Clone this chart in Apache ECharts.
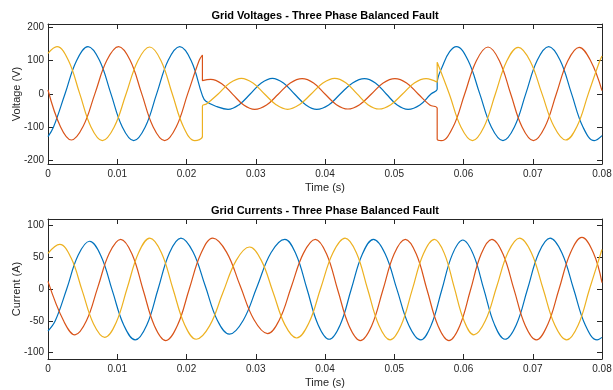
<!DOCTYPE html>
<html><head><meta charset="utf-8">
<script src="https://cdn.jsdelivr.net/npm/echarts@6/dist/echarts.min.js"></script>
<style>html,body{margin:0;padding:0;background:#fff}#c{width:613px;height:390px}</style>
</head><body><div id="c"></div>
<script>
// Grid voltages (V) – knots
const vaT = [0,0.00078,0.00245,0.00412,0.00578,0.00743,0.00908,0.01073,0.01238,0.01404,0.0157,0.01736,0.01902,0.02068,0.0223,0.0228,0.0244,0.026,0.0276,0.0292,0.0308,0.0324,0.034,0.0356,0.0372,0.0388,0.04053,0.0422,0.04398,0.0457,0.04728,0.04885,0.05043,0.052,0.0537,0.0553,0.0562,0.0562,0.0571,0.058,0.05897,0.06065,0.06234,0.06402,0.0657,0.06735,0.069,0.07065,0.0723,0.07395,0.0756,0.07725,0.0789,0.08];
const vaV = [-128,-100,0,100,142,101,1,-99,-140,-99,1,101,142,100,-5,-22,-38,-46,-32,0,33,47,33,0,-32,-46,-33,0,33,46,33,0,-33,-46,-33,0,14,32,90,127,142,101,1,-99,-140,-99,1,101,142,101,1,-99,-140,-125];
const vbT = [0,0.0018,0.00338,0.00508,0.00679,0.0085,0.0102,0.01186,0.01353,0.01519,0.01685,0.01851,0.02018,0.02184,0.0223,0.0223,0.0235,0.02509,0.02668,0.02826,0.02985,0.03156,0.03328,0.03499,0.0367,0.03835,0.04,0.04165,0.0433,0.045,0.0467,0.0484,0.0501,0.05178,0.05345,0.05513,0.0562,0.0562,0.0568,0.05849,0.06017,0.06186,0.06354,0.06518,0.06682,0.06846,0.0701,0.07175,0.0734,0.07505,0.0767,0.07837,0.08];
const vbV = [12,-98,-138,-97,2,101,142,101,1,-99,-140,-99,1,101,117,40,44,31,-1,-33,-46,-33,0,33,46,33,0,-32,-45,-32,0,33,46,33,0,-33,-43,-136,-140,-99,0,100,141,100,0,-99,-140,-99,0,99,140,99,10];
const vcT = [0,0.0013,0.00294,0.00458,0.00621,0.00785,0.00956,0.01127,0.01298,0.01469,0.01632,0.01795,0.01957,0.0212,0.0223,0.0223,0.02288,0.02457,0.02625,0.02793,0.0296,0.03127,0.03293,0.0346,0.0363,0.038,0.0397,0.0414,0.043,0.0446,0.0462,0.0478,0.0495,0.0512,0.0529,0.0546,0.0562,0.0562,0.05795,0.05963,0.0613,0.06295,0.0646,0.06625,0.0679,0.06962,0.07133,0.07305,0.07476,0.0764,0.07803,0.07967,0.08];
const vcV = [122,142,101,1,-99,-140,-99,0,100,141,100,0,-99,-140,-127,-36,-30,0,33,47,33,0,-32,-46,-32,0,33,47,34,1,-32,-45,-32,0,33,46,35,95,0,-99,-140,-99,0,99,140,99,1,-97,-138,-97,1,99,114];

// Grid currents (A)
const iaT = [0,0.00105,0.0027,0.00435,0.006,0.00765,0.0093,0.01095,0.0126,0.01425,0.0159,0.01755,0.0192,0.02095,0.0227,0.02445,0.0262,0.0282,0.0302,0.0322,0.0342,0.0358,0.0374,0.039,0.0406,0.0422,0.0438,0.0454,0.047,0.0487,0.0504,0.0521,0.0538,0.05533,0.05685,0.05838,0.0599,0.06143,0.06295,0.06448,0.066,0.06763,0.06925,0.07088,0.0725,0.0742,0.0759,0.0776,0.0793,0.08];
const iaV = [-66,-50,0,53,75,52,-3,-57,-80,-57,0,57,80,58,5,-49,-71,-49,4,57,78,55,0,-56,-79,-56,0,55,78,55,-1,-57,-80,-57,-2,54,77,54,-1,-56,-79,-56,0,57,80,57,0,-57,-80,-76];
const ibT = [0,0.00225,0.0039,0.00555,0.0072,0.00885,0.0105,0.01213,0.01375,0.01538,0.017,0.0187,0.0204,0.0221,0.0238,0.02578,0.02775,0.02973,0.0317,0.03343,0.03515,0.03688,0.0386,0.04023,0.04185,0.04348,0.0451,0.04673,0.04835,0.04998,0.0516,0.05318,0.05475,0.05633,0.0579,0.05945,0.061,0.06255,0.0641,0.0657,0.0673,0.0689,0.0705,0.07215,0.0738,0.07545,0.0771,0.07875,0.08];
const ibV = [12,-50,-72,-50,3,56,78,55,-2,-58,-81,-57,0,56,80,58,5,-48,-70,-48,4,56,78,55,-2,-58,-81,-58,-2,55,78,55,-2,-58,-81,-58,-2,55,78,55,-1,-57,-80,-56,0,57,81,57,10];
const icT = [0,0.0017,0.00333,0.00495,0.00658,0.0082,0.00983,0.01145,0.01308,0.0147,0.01638,0.01805,0.01973,0.0214,0.02333,0.02525,0.02718,0.0291,0.0308,0.0325,0.0342,0.0359,0.03765,0.0394,0.04115,0.0429,0.04453,0.04615,0.04778,0.0494,0.051,0.0526,0.0542,0.0558,0.05723,0.05865,0.06008,0.0615,0.06315,0.0648,0.06645,0.0681,0.0698,0.0715,0.0732,0.0749,0.07655,0.0782,0.07985,0.08];
const icV = [56,70,49,-3,-55,-76,-53,2,57,80,57,0,-56,-79,-58,-6,45,66,45,-5,-56,-77,-54,2,57,80,57,0,-57,-80,-57,-1,55,78,56,3,-50,-72,-50,4,58,80,57,0,-57,-80,-57,0,57,62];

const titles = ['Grid Voltages - Three Phase Balanced Fault', 'Grid Currents - Three Phase Balanced Fault'];
const yNames = ['Voltage (V)', 'Current (A)'];
const xName = 'Time (s)';

const colors = ['#0072BD', '#D95319', '#EDB120'];
const AX = '#262626';
const FONT = 'Liberation Sans, Arial, Helvetica, sans-serif';

function pairs(t, v) { return t.map((x, i) => [x, v[i]]); }

function xAx(g, pos, label) {
  return {
    type: 'value', gridIndex: g, position: pos, min: 0, max: 0.08, interval: 0.01,
    axisLine: { show: true, onZero: false, lineStyle: { color: AX, width: 1 } },
    axisTick: { show: true, inside: true, length: 5, lineStyle: { color: AX, width: 1 } },
    axisLabel: { show: label, color: AX, fontSize: 10, fontFamily: FONT, margin: 5,
      formatter: v => String(+v.toFixed(2)) },
    splitLine: { show: false },
    name: label ? xName : '', nameLocation: 'middle', nameGap: 18, nameMoveOverlap: false,
    nameTextStyle: { color: AX, fontSize: 11, fontFamily: FONT }
  };
}
function yAx(g, pos, label, lim, step) {
  return {
    type: 'value', gridIndex: g, position: pos, min: -lim, max: lim,
    minInterval: step, maxInterval: step,
    axisLine: { show: true, onZero: false, lineStyle: { color: AX, width: 1 } },
    axisTick: { show: true, inside: true, length: 5, lineStyle: { color: AX, width: 1 } },
    axisLabel: { show: label, color: AX, fontSize: 10, fontFamily: FONT, margin: 4,
      showMinLabel: false, showMaxLabel: false,
      formatter: v => (Math.abs(Math.round(v)) % step === 0 ? String(Math.round(v)) : '') },
    splitLine: { show: false },
    name: label ? yNames[g] : '', nameLocation: 'middle', nameGap: 26, nameRotate: 90,
    nameMoveOverlap: false,
    nameTextStyle: { color: AX, fontSize: 11, fontFamily: FONT }
  };
}
function line(name, g, t, v, c) {
  return {
    name, type: 'line', xAxisIndex: g * 2, yAxisIndex: g * 2,
    data: pairs(t, v), showSymbol: false, symbol: 'none', smooth: 0.4,
    lineStyle: { color: c, width: 1.2 }, itemStyle: { color: c },
    animation: false, silent: true
  };
}

const chart = echarts.init(document.getElementById('c'), null, { renderer: 'canvas' });
chart.setOption({
  backgroundColor: '#ffffff',
  animation: false,
  title: [
    { text: titles[0], left: 325, top: 16, textAlign: 'center', textVerticalAlign: 'middle', padding: 0,
      textStyle: { fontSize: 11, fontWeight: 'bold', color: '#000', fontFamily: FONT } },
    { text: titles[1], left: 325, top: 211, textAlign: 'center', textVerticalAlign: 'middle', padding: 0,
      textStyle: { fontSize: 11, fontWeight: 'bold', color: '#000', fontFamily: FONT } }
  ],
  grid: [
    { left: 48, right: 11, top: 24, height: 140, containLabel: false, outerBoundsMode: 'none' },
    { left: 48, right: 11, top: 219, height: 140, containLabel: false, outerBoundsMode: 'none' }
  ],
  xAxis: [xAx(0, 'bottom', true), xAx(0, 'top', false), xAx(1, 'bottom', true), xAx(1, 'top', false)],
  yAxis: [yAx(0, 'left', true, 210, 100), yAx(0, 'right', false, 210, 100),
          yAx(1, 'left', true, 110, 50), yAx(1, 'right', false, 110, 50)],
  series: [
    line('Va', 0, vaT, vaV, colors[0]),
    line('Vb', 0, vbT, vbV, colors[1]),
    line('Vc', 0, vcT, vcV, colors[2]),
    line('Ia', 1, iaT, iaV, colors[0]),
    line('Ib', 1, ibT, ibV, colors[1]),
    line('Ic', 1, icT, icV, colors[2])
  ]
});
</script>
</body></html>
